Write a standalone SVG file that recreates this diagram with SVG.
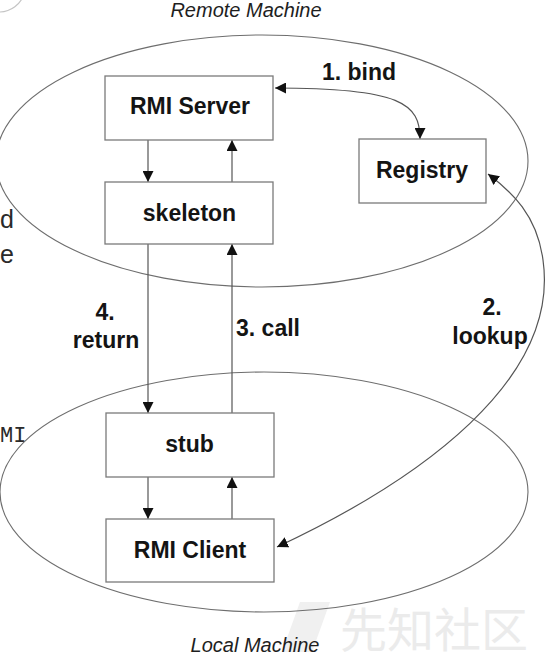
<svg xmlns="http://www.w3.org/2000/svg" width="554" height="663" viewBox="0 0 554 663">
<style>
  .box { fill: #ffffff; stroke: #7a7a7a; stroke-width: 1.3; }
  .ell { fill: none; stroke: #6e6e6e; stroke-width: 1.1; }
  .con { fill: none; stroke: #555555; stroke-width: 1.2; }
  .t { font-family: "Liberation Sans", Arial, sans-serif; font-weight: bold; font-size: 23px; fill: #141414; text-anchor: middle; }
  .it { font-family: "Liberation Sans", Arial, sans-serif; font-style: italic; font-size: 20px; fill: #1e1e1e; text-anchor: middle; }
  .side { font-family: "Liberation Sans", Arial, sans-serif; font-size: 25px; fill: #2a2a2a; }
  .mono { font-family: "Liberation Mono", "DejaVu Sans Mono", monospace; font-size: 22px; fill: #2a2a2a; }
  .wm { font-family: "Noto Sans CJK SC", sans-serif; font-size: 47px; fill: #ebebeb; }
</style>
<defs>
  <marker id="ah" viewBox="0 0 10 10" refX="10" refY="5" markerWidth="11" markerHeight="11" markerUnits="userSpaceOnUse" orient="auto-start-reverse">
    <path d="M0,0 L10,5 L0,10 z" fill="#111111"/>
  </marker>
</defs>

<!-- background page fragments -->
<g id="fragments">
  <path d="M0,12 A26,26 0 0 0 24,-6" fill="none" stroke="#c4c4c4" stroke-width="1.2"/>
  <text class="side" x="0" y="228">d</text>
  <text class="side" x="0" y="263">e</text>
  <text class="mono" x="0" y="442">MI</text>
</g>

<!-- watermark -->
<g id="watermark">
  <polygon points="300,602 330,602 312,652 282,652" fill="#f0f0f0"/>
  <text class="wm" x="340" y="647">先知社区</text>
</g>

<!-- machines -->
<g id="remote-machine">
  <ellipse class="ell" cx="262" cy="161" rx="266" ry="126"/>
  <text class="it" x="246" y="17">Remote Machine</text>
</g>
<g id="local-machine">
  <ellipse class="ell" cx="264" cy="492" rx="264" ry="120"/>
  <text class="it" x="255" y="652">Local Machine</text>
</g>

<!-- connectors -->
<g id="connectors">
  <line class="con" x1="148" y1="140" x2="148" y2="182" marker-end="url(#ah)"/>
  <line class="con" x1="232" y1="182" x2="232" y2="140" marker-end="url(#ah)"/>
  <line class="con" x1="148" y1="244" x2="148" y2="413" marker-end="url(#ah)"/>
  <line class="con" x1="232" y1="413" x2="232" y2="244" marker-end="url(#ah)"/>
  <line class="con" x1="148" y1="477" x2="148" y2="519" marker-end="url(#ah)"/>
  <line class="con" x1="232" y1="519" x2="232" y2="477" marker-end="url(#ah)"/>
  <path class="con" d="M420,139 C420,104 402,88 275,88" marker-start="url(#ah)" marker-end="url(#ah)"/>
  <path class="con" d="M277,547 C420,480 560,380 543,260 C537,215 512,192 488,174" marker-start="url(#ah)" marker-end="url(#ah)"/>
  <text class="t" x="359" y="80">1. bind</text>
  <text class="t" x="492" y="315">2.</text>
  <text class="t" x="490" y="344">lookup</text>
  <text class="t" x="268" y="336">3. call</text>
  <text class="t" x="105" y="320">4.</text>
  <text class="t" x="106" y="348">return</text>
</g>

<!-- nodes -->
<g id="rmi-server">
  <rect class="box" x="105" y="76" width="168" height="64"/>
  <text class="t" x="190" y="114">RMI Server</text>
</g>
<g id="skeleton">
  <rect class="box" x="105" y="182" width="168" height="62"/>
  <text class="t" x="189.5" y="221">skeleton</text>
</g>
<g id="registry">
  <rect class="box" x="359" y="139" width="127" height="64"/>
  <text class="t" x="422" y="178">Registry</text>
</g>
<g id="stub">
  <rect class="box" x="106" y="413" width="168" height="64"/>
  <text class="t" x="189.5" y="452">stub</text>
</g>
<g id="rmi-client">
  <rect class="box" x="106" y="519" width="168" height="63"/>
  <text class="t" x="190" y="558">RMI Client</text>
</g>
</svg>
